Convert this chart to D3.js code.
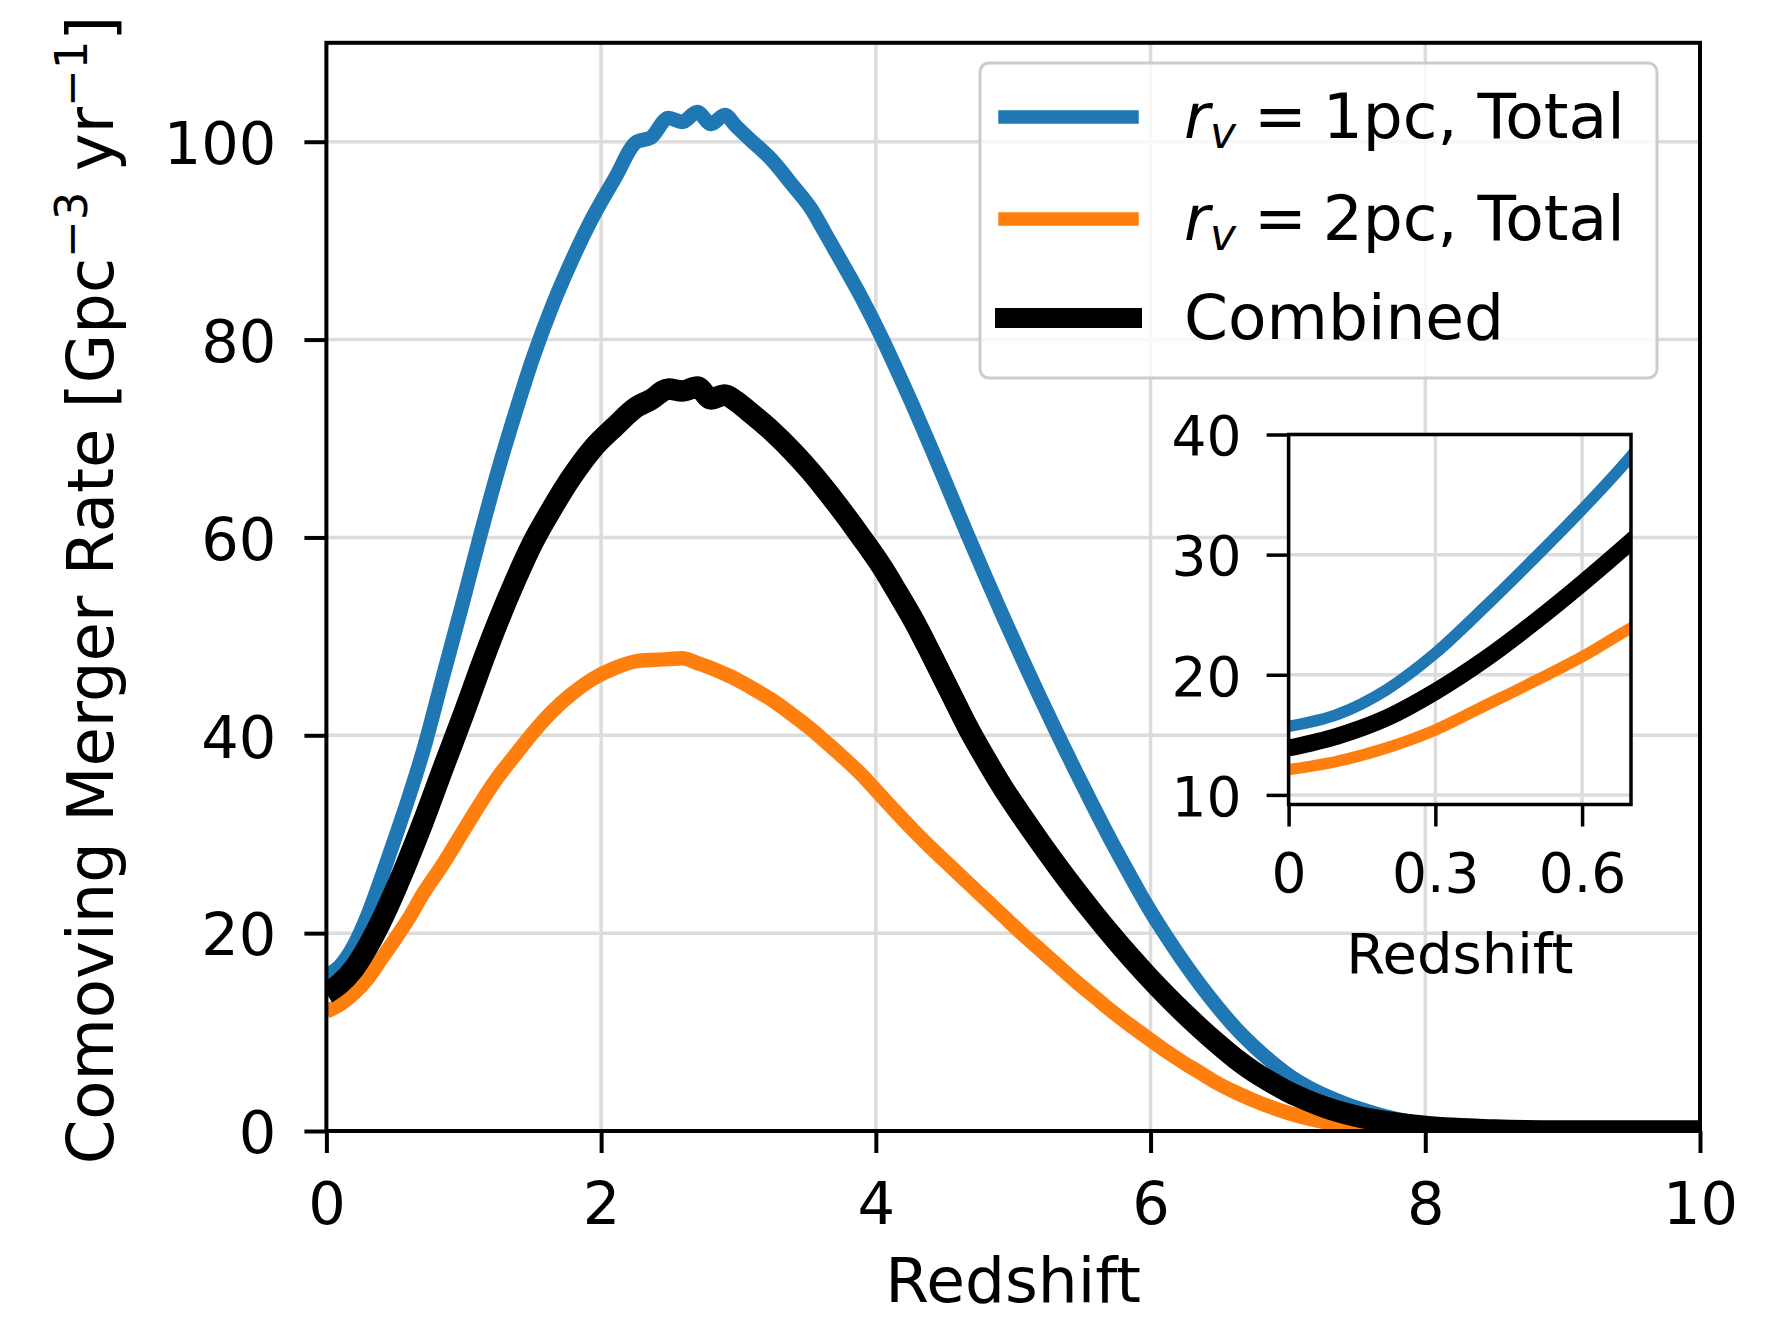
<!DOCTYPE html>
<html>
<head>
<meta charset="utf-8">
<script src="https://cdn.jsdelivr.net/npm/d3@7"></script>
<style>
  html, body { margin: 0; padding: 0; background: #ffffff; }
  svg { display: block; font-family: "DejaVu Sans", sans-serif; }
</style>
</head>
<body>
<svg id="chart" width="1777" height="1318"></svg>
<script>
// Redshift grid shared by all three merger-rate curves
const redshift = [0, 0.1, 0.2, 0.3, 0.4, 0.5, 0.6, 0.7,
  0.85, 1.0, 1.12, 1.25, 1.38, 1.5, 1.65, 1.78, 1.94, 2.1,
  2.26, 2.36, 2.49, 2.59, 2.7, 2.8, 2.9, 2.98, 3.07, 3.24,
  3.4, 3.53, 3.63, 3.72, 3.89, 4.05, 4.15, 4.28, 4.41, 4.54,
  4.67, 4.8, 4.93, 5.06, 5.19, 5.32, 5.45, 5.58, 5.71, 5.84,
  5.97, 6.1, 6.23, 6.36, 6.49, 6.62, 6.75, 6.88, 7.01, 7.14,
  7.27, 7.53, 7.79, 8.0, 8.5, 9.0, 10.0];

// Comoving merger rate [Gpc^-3 yr^-1]
const rate1pc = [15.7, 16.7, 18.75, 21.8, 25.6, 29.6, 33.75, 38.2,
  46.0, 53.8, 60.2, 66.8, 72.8, 78.0, 83.6, 87.8, 92.4, 96.3,
  100.0, 100.4, 102.4, 102.0, 103.0, 101.8, 102.7, 101.6, 100.4, 98.2,
  95.5, 93.2, 90.8, 88.6, 84.4, 80.0, 77.0, 73.0, 68.8, 64.5,
  60.2, 56.0, 51.9, 47.9, 44.0, 40.2, 36.5, 32.9, 29.4, 26.1,
  22.9, 20.0, 17.3, 14.8, 12.5, 10.4, 8.6, 7.0, 5.6, 4.5,
  3.6, 2.2, 1.2, 0.7, 0.2, 0, 0];

const rate2pc = [12.1, 12.8, 13.9, 15.4, 17.4, 19.4, 21.5, 23.9,
  27.0, 30.4, 33.1, 35.8, 38.1, 40.2, 42.5, 44.1, 45.7, 46.8,
  47.5, 47.6, 47.7, 47.8, 47.3, 46.8, 46.2, 45.7, 45.0, 43.6,
  42.0, 40.6, 39.4, 38.3, 36.1, 33.7, 32.2, 30.3, 28.5, 26.8,
  25.1, 23.4, 21.7, 20.0, 18.4, 16.8, 15.2, 13.7, 12.2, 10.8,
  9.5, 8.2, 7.0, 5.9, 4.8, 3.9, 3.1, 2.4, 1.8, 1.3,
  0.9, 0.4, 0.15, 0.05, 0, 0, 0];

const rateCombined = [13.9, 14.9, 16.4, 18.6, 21.25, 24.3, 27.6, 31.1,
  36.7, 42.2, 46.8, 51.5, 55.8, 59.4, 63.1, 66.0, 69.0, 71.2,
  73.2, 73.9, 75.0, 74.8, 75.2, 74.0, 74.4, 73.8, 72.8, 70.8,
  68.6, 66.6, 64.9, 63.3, 60.1, 56.9, 54.6, 51.5, 48.0, 44.4,
  40.8, 37.6, 34.6, 31.9, 29.3, 26.8, 24.4, 22.1, 19.9, 17.8,
  15.8, 13.9, 12.1, 10.4, 8.8, 7.3, 6.0, 4.9, 3.9, 3.1,
  2.4, 1.4, 0.8, 0.45, 0.1, 0, 0];

// Tick values
const xTicks = [0, 2, 4, 6, 8, 10];
const yTicks = [0, 20, 40, 60, 80, 100];
const insetXTicks = [0, 0.3, 0.6];
const insetYTicks = [10, 20, 30, 40];

// Series styling and legend text
const seriesNames = ["1pc", "2pc", "Combined"];
const seriesColors = ["#1f77b4", "#ff7f0e", "#000000"];

const series = [
  { key: seriesNames[0], values: rate1pc, color: seriesColors[0], width: 14.5, insetWidth: 11.5 },
  { key: seriesNames[1], values: rate2pc, color: seriesColors[1], width: 14.5, insetWidth: 11.5 },
  { key: seriesNames[2], values: rateCombined, color: seriesColors[2], width: 21.5, insetWidth: 17 }
];

const svg = d3.select("#chart");
const gridColor = "#dcdcdc";

// ---------- main axes ----------
const plot = { left: 326.4, right: 1700, top: 42.8, bottom: 1131 };
const x = d3.scaleLinear().domain([0, 10]).range([plot.left, plot.right]);
const y = d3.scaleLinear().domain([0, 110]).range([plot.bottom, plot.top]);

svg.append("defs").append("clipPath").attr("id", "mainClip")
  .append("rect")
  .attr("x", plot.left).attr("y", plot.top)
  .attr("width", plot.right - plot.left).attr("height", plot.bottom - plot.top);

// grid
const grid = svg.append("g");
grid.selectAll("line.gx").data(xTicks).join("line")
  .attr("x1", d => x(d)).attr("x2", d => x(d))
  .attr("y1", plot.top).attr("y2", plot.bottom)
  .attr("stroke", gridColor).attr("stroke-width", 3.5);
grid.selectAll("line.gy").data(yTicks).join("line")
  .attr("y1", d => y(d)).attr("y2", d => y(d))
  .attr("x1", plot.left).attr("x2", plot.right)
  .attr("stroke", gridColor).attr("stroke-width", 3.5);

// curves
const line = d3.line()
  .x((d, i) => x(redshift[i]))
  .y(d => y(d))
  .curve(d3.curveMonotoneX);

const curves = svg.append("g").attr("clip-path", "url(#mainClip)");
series.forEach(s => {
  curves.append("path")
    .attr("d", line(s.values))
    .attr("fill", "none")
    .attr("stroke", s.color)
    .attr("stroke-width", s.width)
    .attr("stroke-linejoin", "round");
});

// spines
svg.append("rect")
  .attr("x", plot.left).attr("y", plot.top)
  .attr("width", plot.right - plot.left).attr("height", plot.bottom - plot.top)
  .attr("fill", "none").attr("stroke", "#000").attr("stroke-width", 4);

function styleAxis(g, fontSize, tickWidth) {
  g.select(".domain").remove();
  g.selectAll(".tick line").attr("stroke", "#000").attr("stroke-width", tickWidth);
  g.selectAll(".tick text")
    .attr("fill", "#000")
    .style("font-family", "'DejaVu Sans', sans-serif")
    .style("font-size", fontSize + "px");
}

const xAxis = svg.append("g")
  .attr("transform", `translate(0,${plot.bottom})`)
  .call(d3.axisBottom(x).tickValues(xTicks).tickSize(22).tickPadding(29).tickFormat(d3.format("d")));
styleAxis(xAxis, 59, 4);

const yAxis = svg.append("g")
  .attr("transform", `translate(${plot.left},0)`)
  .call(d3.axisLeft(y).tickValues(yTicks).tickSize(22).tickPadding(28).tickFormat(d3.format("d")));
styleAxis(yAxis, 59, 4);
yAxis.selectAll(".tick text").attr("dy", "0.37em");

// axis titles
svg.append("text")
  .attr("x", (plot.left + plot.right) / 2).attr("y", 1302)
  .attr("text-anchor", "middle")
  .style("font-size", "63px")
  .text("Redshift");

const yTitle = svg.append("text")
  .attr("transform", "translate(113,590) rotate(-90)")
  .attr("text-anchor", "middle")
  .style("font-size", "64px");
yTitle.append("tspan").text("Comoving Merger Rate [Gpc");
yTitle.append("tspan").attr("dy", -26).style("font-size", "45px").text("\u22123");
yTitle.append("tspan").attr("dy", 26).text(" yr");
yTitle.append("tspan").attr("dy", -26).style("font-size", "45px").text("\u22121");
yTitle.append("tspan").attr("dy", 26).text("]");

// ---------- legend ----------
const legend = svg.append("g");
legend.append("rect")
  .attr("x", 980).attr("y", 63).attr("width", 677).attr("height", 315)
  .attr("rx", 9).attr("ry", 9)
  .attr("fill", "#ffffff").attr("fill-opacity", 0.8)
  .attr("stroke", "#cccccc").attr("stroke-width", 3);

const rowY = [117, 219, 318];
series.forEach((s, i) => {
  legend.append("line")
    .attr("x1", 1005).attr("x2", 1132)
    .attr("y1", rowY[i]).attr("y2", rowY[i])
    .attr("stroke", s.color).attr("stroke-width", i < 2 ? 13.5 : 20)
    .attr("stroke-linecap", "square");
  const t = legend.append("text")
    .attr("x", 1184).attr("y", rowY[i] + 21)
    .style("font-size", "63px");
  if (i < 2) {
    t.append("tspan").style("font-style", "italic").text("r");
    t.append("tspan").style("font-style", "italic").style("font-size", "44px")
      .attr("dy", 10).text("v");
    t.append("tspan").attr("dy", -10).attr("dx", 18).text("=");
    t.append("tspan").attr("dx", 16).text(s.key + ", Total");
  } else {
    t.text(s.key);
  }
});

// ---------- inset ----------
const inset = { left: 1288.6, right: 1631, top: 434.5, bottom: 804.5 };
const xi = d3.scaleLinear().domain([0, 0.7]).range([inset.left, inset.right]);
const yi = d3.scaleLinear().domain([9.2, 40]).range([inset.bottom, inset.top]);

svg.select("defs").append("clipPath").attr("id", "insetClip")
  .append("rect")
  .attr("x", inset.left).attr("y", inset.top)
  .attr("width", inset.right - inset.left).attr("height", inset.bottom - inset.top);

svg.append("rect")
  .attr("x", inset.left).attr("y", inset.top)
  .attr("width", inset.right - inset.left).attr("height", inset.bottom - inset.top)
  .attr("fill", "#ffffff");

const igrid = svg.append("g");
igrid.selectAll("line.gx").data(insetXTicks).join("line")
  .attr("x1", d => xi(d)).attr("x2", d => xi(d))
  .attr("y1", inset.top).attr("y2", inset.bottom)
  .attr("stroke", gridColor).attr("stroke-width", 3.5);
igrid.selectAll("line.gy").data(insetYTicks).join("line")
  .attr("y1", d => yi(d)).attr("y2", d => yi(d))
  .attr("x1", inset.left).attr("x2", inset.right)
  .attr("stroke", gridColor).attr("stroke-width", 3.5);

const insetLine = d3.line()
  .x((d, i) => xi(redshift[i]))
  .y(d => yi(d))
  .curve(d3.curveMonotoneX);

const insetCurves = svg.append("g").attr("clip-path", "url(#insetClip)");
series.forEach(s => {
  insetCurves.append("path")
    .attr("d", insetLine(s.values))
    .attr("fill", "none")
    .attr("stroke", s.color)
    .attr("stroke-width", s.insetWidth)
    .attr("stroke-linejoin", "round");
});

svg.append("rect")
  .attr("x", inset.left).attr("y", inset.top)
  .attr("width", inset.right - inset.left).attr("height", inset.bottom - inset.top)
  .attr("fill", "none").attr("stroke", "#000").attr("stroke-width", 3.5);

const ixAxis = svg.append("g")
  .attr("transform", `translate(0,${inset.bottom})`)
  .call(d3.axisBottom(xi).tickValues(insetXTicks).tickSize(22).tickPadding(26)
    .tickFormat(d => d === 0 ? "0" : d3.format(".1f")(d)));
styleAxis(ixAxis, 55, 3.5);

const iyAxis = svg.append("g")
  .attr("transform", `translate(${inset.left},0)`)
  .call(d3.axisLeft(yi).tickValues(insetYTicks).tickSize(22).tickPadding(25).tickFormat(d3.format("d")));
styleAxis(iyAxis, 55, 3.5);
iyAxis.selectAll(".tick text").attr("dy", "0.37em");

svg.append("text")
  .attr("x", (inset.left + inset.right) / 2).attr("y", 973)
  .attr("text-anchor", "middle")
  .style("font-size", "56px")
  .text("Redshift");
</script>
</body>
</html>
